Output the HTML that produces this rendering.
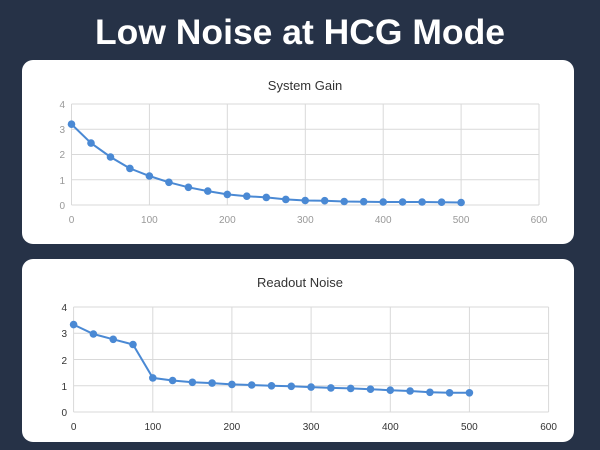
<!DOCTYPE html>
<html><head><meta charset="utf-8"><style>
html,body{margin:0;padding:0;background:#263247;}
svg{display:block;}
</style></head><body>
<svg width="600" height="450" xmlns="http://www.w3.org/2000/svg" font-family="Liberation Sans, sans-serif">
<defs>
<marker id="dot" markerWidth="10" markerHeight="10" refX="5" refY="5" markerUnits="userSpaceOnUse">
<circle cx="5" cy="5" r="3.8" fill="#4a89d4"/>
</marker>
</defs>
<rect width="600" height="450" fill="#263247"/>
<text x="300" y="44" fill="#fff" font-size="35" font-weight="bold" text-anchor="middle" textLength="410" lengthAdjust="spacingAndGlyphs">Low Noise at HCG Mode</text>
<rect x="22" y="60" width="552" height="184" rx="11" fill="#fff"/>
<rect x="22" y="259" width="552" height="183" rx="11" fill="#fff"/>

<!-- Chart 1 -->
<g stroke="#d9d9d9" stroke-width="1">
<line x1="71.5" x2="539" y1="205" y2="205"/>
<line x1="71.5" x2="539" y1="179.75" y2="179.75"/>
<line x1="71.5" x2="539" y1="154.5" y2="154.5"/>
<line x1="71.5" x2="539" y1="129.25" y2="129.25"/>
<line x1="71.5" x2="539" y1="104" y2="104"/>
<line x1="71.5" x2="71.5" y1="104" y2="205"/>
<line x1="149.4" x2="149.4" y1="104" y2="205"/>
<line x1="227.3" x2="227.3" y1="104" y2="205"/>
<line x1="305.3" x2="305.3" y1="104" y2="205"/>
<line x1="383.2" x2="383.2" y1="104" y2="205"/>
<line x1="461.1" x2="461.1" y1="104" y2="205"/>
<line x1="539" x2="539" y1="104" y2="205"/>
</g>
<g font-size="10" fill="#999" text-anchor="end">
<text x="65" y="209">0</text><text x="65" y="184">1</text><text x="65" y="158">2</text><text x="65" y="133">3</text><text x="65" y="108">4</text>
</g>
<g font-size="10" fill="#999" text-anchor="middle">
<text x="71.5" y="223">0</text><text x="149.4" y="223">100</text><text x="227.3" y="223">200</text><text x="305.3" y="223">300</text><text x="383.2" y="223">400</text><text x="461.1" y="223">500</text><text x="539" y="223">600</text>
</g>
<text x="305" y="90" font-size="13" fill="#333" text-anchor="middle">System Gain</text>
<polyline fill="none" stroke="#4a89d4" stroke-width="2" marker-start="url(#dot)" marker-mid="url(#dot)" marker-end="url(#dot)"
points="71.5,124.2 91,143.1 110.5,157 129.9,168.4 149.4,176 168.9,182.3 188.4,187.3 207.8,191.1 227.3,194.4 246.8,196.2 266.3,197.4 285.8,199.4 305.2,200.5 324.7,200.7 344.2,201.5 363.7,201.7 383.2,202 402.6,202 422.1,202 441.6,202.2 461.1,202.5"/>

<!-- Chart 2 -->
<g stroke="#d9d9d9" stroke-width="1">
<line x1="73.6" x2="548.6" y1="412" y2="412"/>
<line x1="73.6" x2="548.6" y1="385.75" y2="385.75"/>
<line x1="73.6" x2="548.6" y1="359.5" y2="359.5"/>
<line x1="73.6" x2="548.6" y1="333.25" y2="333.25"/>
<line x1="73.6" x2="548.6" y1="307" y2="307"/>
<line x1="73.6" x2="73.6" y1="307" y2="412"/>
<line x1="152.8" x2="152.8" y1="307" y2="412"/>
<line x1="231.9" x2="231.9" y1="307" y2="412"/>
<line x1="311.1" x2="311.1" y1="307" y2="412"/>
<line x1="390.3" x2="390.3" y1="307" y2="412"/>
<line x1="469.4" x2="469.4" y1="307" y2="412"/>
<line x1="548.6" x2="548.6" y1="307" y2="412"/>
</g>
<g font-size="10" fill="#333" text-anchor="end">
<text x="67" y="416">0</text><text x="67" y="390">1</text><text x="67" y="364">2</text><text x="67" y="337">3</text><text x="67" y="311">4</text>
</g>
<g font-size="10" fill="#333" text-anchor="middle">
<text x="73.6" y="430">0</text><text x="152.8" y="430">100</text><text x="231.9" y="430">200</text><text x="311.1" y="430">300</text><text x="390.3" y="430">400</text><text x="469.4" y="430">500</text><text x="548.6" y="430">600</text>
</g>
<text x="300" y="287" font-size="13" fill="#333" text-anchor="middle">Readout Noise</text>
<polyline fill="none" stroke="#4a89d4" stroke-width="2" marker-start="url(#dot)" marker-mid="url(#dot)" marker-end="url(#dot)"
points="73.6,324.6 93.4,334 113.2,339.3 133,344.5 152.8,377.9 172.6,380.5 192.4,382.3 212.1,383.1 231.9,384.4 251.7,385 271.5,385.8 291.3,386.3 311.1,387.1 330.9,387.9 350.7,388.4 370.5,389.2 390.3,390.2 410.1,391 429.9,392.3 449.6,392.8 469.4,392.8"/>
</svg>
</body></html>
